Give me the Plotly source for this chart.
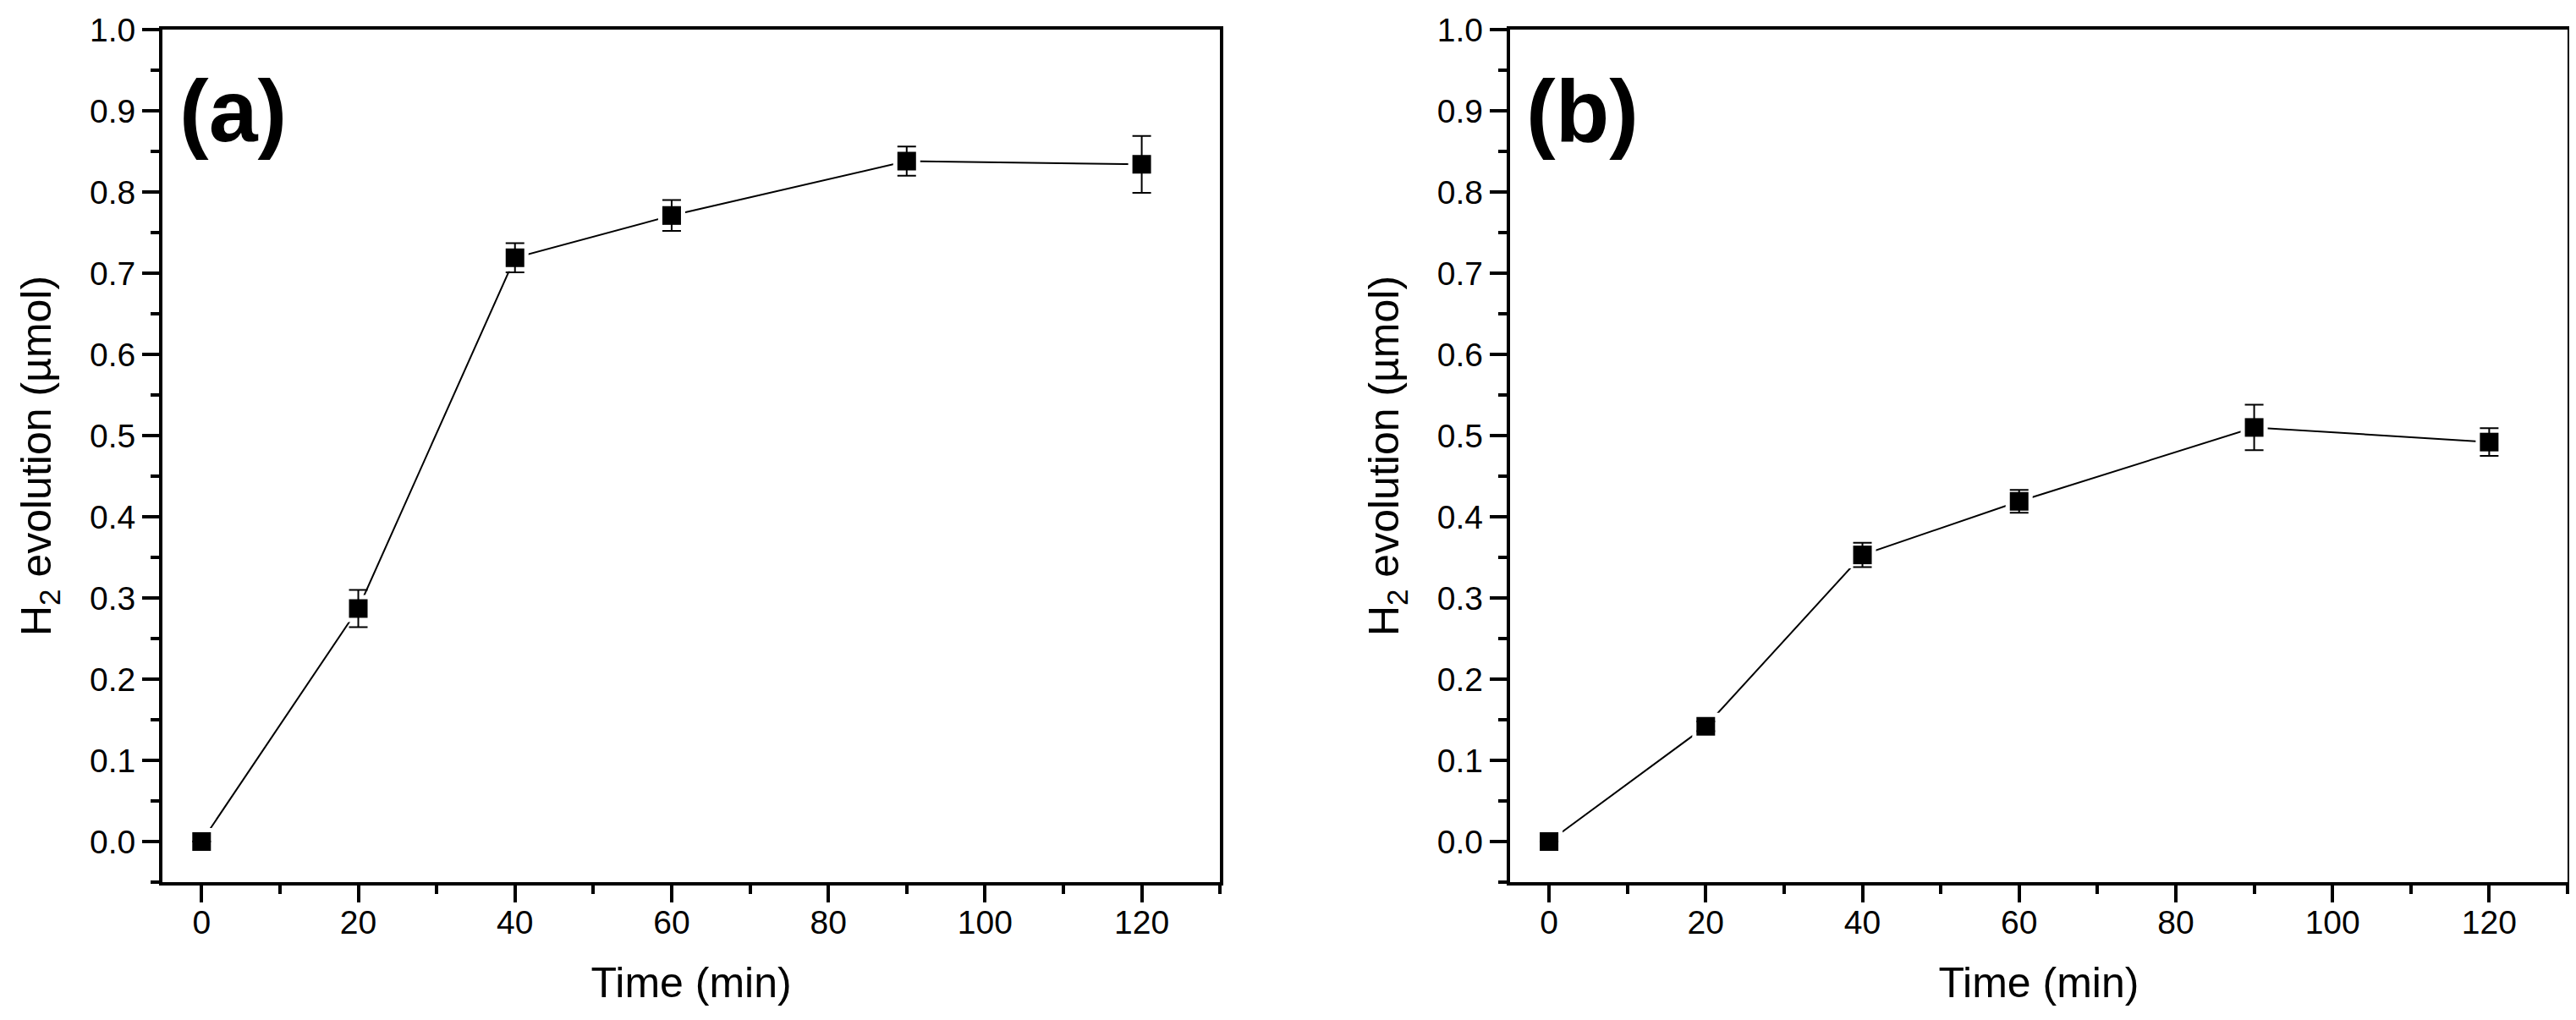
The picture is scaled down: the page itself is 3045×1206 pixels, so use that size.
"""
H2 evolution vs time, two panels (a) and (b), Origin-style axes.
"""

import plotly.graph_objects as go
from plotly.subplots import make_subplots

# ---- data ------------------------------------------------------------------
time_min = [0, 20, 40, 60, 90, 120]

h2_a     = [0.0, 0.287, 0.719, 0.771, 0.838, 0.834]
h2_a_err = [0.0, 0.023, 0.018, 0.019, 0.018, 0.035]

h2_b     = [0.0, 0.142, 0.353, 0.419, 0.510, 0.492]
h2_b_err = [0.0, 0.006, 0.015, 0.014, 0.028, 0.017]

panel_labels = ["(a)", "(b)"]

# ---- styling ----------------------------------------------------------------
FONT   = "Liberation Sans, Arial, sans-serif"
BLACK  = "#000000"
W, H   = 3045, 1206

fig = make_subplots(rows=1, cols=2, horizontal_spacing=0.1205)

for col, (vals, errs) in enumerate([(h2_a, h2_a_err), (h2_b, h2_b_err)], start=1):
    # connecting line
    fig.add_trace(
        go.Scatter(
            x=time_min, y=vals, mode="lines",
            line=dict(color=BLACK, width=2),
            hoverinfo="skip", showlegend=False,
        ),
        row=1, col=col,
    )
    # white halo so the line stops short of each symbol (Origin look)
    fig.add_trace(
        go.Scatter(
            x=time_min, y=vals, mode="markers",
            marker=dict(symbol="square", size=32, color="white", line=dict(width=0)),
            hoverinfo="skip", showlegend=False,
        ),
        row=1, col=col,
    )
    # symbols + error bars
    fig.add_trace(
        go.Scatter(
            x=time_min, y=vals, mode="markers",
            marker=dict(symbol="square", size=22, color=BLACK, line=dict(width=0)),
            error_y=dict(type="data", array=errs, visible=True,
                         color=BLACK, thickness=2, width=11),
            showlegend=False,
            hovertemplate="%{x} min<br>%{y:.3f} µmol<extra></extra>",
        ),
        row=1, col=col,
    )

axis_common = dict(
    showline=True, linecolor=BLACK, linewidth=4, mirror=True,
    showgrid=False, zeroline=False,
    ticks="outside", ticklen=20, tickwidth=4, tickcolor=BLACK,
    tickfont=dict(family=FONT, size=39, color=BLACK),
    automargin=False,
)

fig.update_xaxes(
    **axis_common,
    range=[-5, 130], tick0=0, dtick=20,
    ticklabelstandoff=-10,
    minor=dict(ticks="outside", ticklen=10, tickwidth=4, tickcolor=BLACK,
               tick0=0, dtick=10, showgrid=False),
    title=dict(text="Time (min)", font=dict(family=FONT, size=50, color=BLACK),
               standoff=34),
)
fig.update_yaxes(
    **axis_common,
    range=[-0.05, 1.0], tick0=0, dtick=0.1, tickformat=".1f",
    minor=dict(ticks="outside", ticklen=10, tickwidth=4, tickcolor=BLACK,
               tick0=0, dtick=0.05, showgrid=False),
    title=dict(text="H<sub>2</sub> evolution (µmol)",
               font=dict(family=FONT, size=50, color=BLACK),
               standoff=30),
)

# panel letters
for i, label in enumerate(panel_labels):
    xref = "x domain" if i == 0 else "x2 domain"
    yref = "y domain" if i == 0 else "y2 domain"
    fig.add_annotation(
        text=f"<b>{label}</b>", x=0.014, y=0.905, xref=xref, yref=yref,
        xanchor="left", yanchor="middle", showarrow=False,
        font=dict(family=FONT, size=104, color=BLACK),
    )

fig.update_layout(
    width=W, height=H,
    margin=dict(l=184, r=18, t=27, b=171),
    plot_bgcolor="white", paper_bgcolor="white",
    font=dict(family=FONT, color=BLACK),
)

fig.write_html("out.html")
